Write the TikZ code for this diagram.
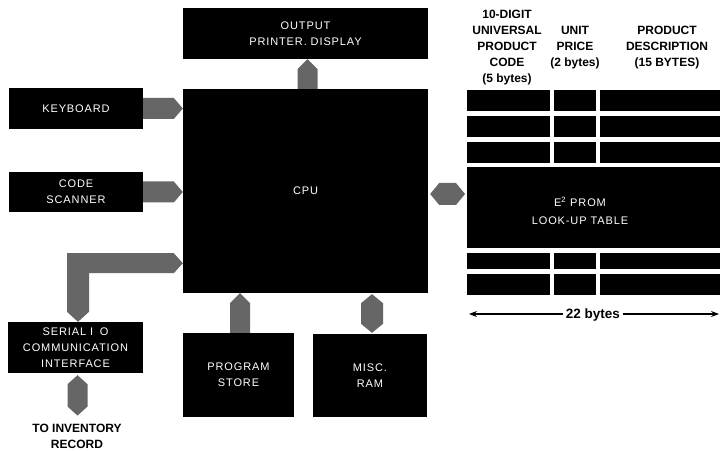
\documentclass[tikz,border=0pt]{standalone}
\usepackage{fontspec}
\setmainfont{Liberation Sans}
\newfontfamily\boxfont[LetterSpace=8]{Liberation Sans}
\usetikzlibrary{calc,arrows.meta}
% right-pointing bus from #1 to #2 (x of #2), half width #3
\newcommand\rbus[3]{\fill[bus] let \p1=(#1), \p2=(#2) in
  (\x1,\y1+#3) -- (\x2-9,\y1+#3) -- (\x2,\y1) -- (\x2-9,\y1-#3) -- (\x1,\y1-#3) -- cycle;}
% up-pointing bus from #1 (bottom) to #2 (y of #2)
\newcommand\ubus[3]{\fill[bus] let \p1=(#1), \p2=(#2) in
  (\x1-#3,\y1) -- (\x1-#3,\y2-10) -- (\x1,\y2) -- (\x1+#3,\y2-10) -- (\x1+#3,\y1) -- cycle;}
% vertical double-pointed bus, #1 top, #2 bottom
\newcommand\vdbl[3]{\fill[bus] let \p1=(#1), \p2=(#2) in
  (\x1,\y1) -- (\x1+#3,\y1-9) -- (\x1+#3,\y2+9) -- (\x1,\y2) -- (\x1-#3,\y2+9) -- (\x1-#3,\y1-9) -- cycle;}
% horizontal double-pointed bus, #1 left, #2 right
\newcommand\hdbl[3]{\fill[bus] let \p1=(#1), \p2=(#2) in
  (\x1,\y1) -- (\x1+9,\y1+#3) -- (\x2-9,\y1+#3) -- (\x2,\y1) -- (\x2-9,\y1-#3) -- (\x1+9,\y1-#3) -- cycle;}
\begin{document}
\begin{tikzpicture}[x=1pt,y=1pt,
  box/.style={fill=black, text=white, inner sep=0pt, align=center,
    font=\boxfont\fontsize{11}{16}\selectfont},
  wtext/.style={text=white, inner sep=0pt, align=center,
    font=\boxfont\fontsize{11}{18}\selectfont},
  bus/.style={fill=black!60},
  hdr/.style={align=center, inner sep=0pt, font=\bfseries\fontsize{12}{16}\selectfont}]
\useasboundingbox[fill=white] (0,0) rectangle (720,450);

% blocks
\node[box, minimum width=245, minimum height=51] (out) at (305.5,416.5) {OUTPUT\\PRINTER. DISPLAY};
\node[box, minimum width=245, minimum height=204] (cpu) at (305.5,259) {CPU};
\node[box, minimum width=134, minimum height=41] (kbd) at (76,341.5) {KEYBOARD};
\node[box, minimum width=134, minimum height=40] (scan) at (76,258) {CODE\\SCANNER};
\node[box, minimum width=135, minimum height=51] (serial) at (75.5,102.5) {SERIAL I\hspace{0.6em}O\\COMMUNICATION\\INTERFACE};
\node[box, minimum width=111, minimum height=84] (prog) at (238.5,75) {PROGRAM\\STORE};
\node[box, minimum width=114, minimum height=83] (ram) at (370,74.5) {MISC.\\RAM};
\node[hdr] (inv) at (77,14) {TO INVENTORY\\RECORD};

% look-up table
\foreach \a/\b in {339/360,313/334,287/308,181/197,155/176}{
  \fill (467,\a) rectangle (550,\b);
  \fill (554,\a) rectangle (596,\b);
  \fill (600,\a) rectangle (720,\b);
}
\node[box, minimum width=253, minimum height=81, anchor=south west] (prom) at (467,202) {};
\node[wtext] (promtext) at (580,239) {E\textsuperscript{2} PROM\\LOOK-UP TABLE};

% column headings
\node[hdr] (h1) at (507,402) {10-DIGIT\\UNIVERSAL\\PRODUCT\\CODE\\(5 bytes)};
\node[hdr] (h2) at (575,402) {UNIT\\PRICE\\(2 bytes)};
\node[hdr] (h3) at (667,402) {PRODUCT\\DESCRIPTION\\(15 BYTES)};

% dimension line
\coordinate (dl) at (469,136);
\coordinate (dr) at (719,136);
\draw[line width=1.1pt, {Stealth[length=8pt,width=6pt]}-{Stealth[length=8pt,width=6pt]}] (dl) -- (dr);
\node[fill=white, inner xsep=3pt, inner ysep=1pt, font=\bfseries\fontsize{13.5}{15}\selectfont] (dim) at (593,135) {22 bytes};

% buses
\rbus{kbd.east}{cpu.west}{10.5}
\rbus{scan.east}{cpu.west}{10.5}
\ubus{$(cpu.north)+(2,0)$}{out.south}{10}
\ubus{$(prog.north)+(1.5,0)$}{cpu.south}{10}
\vdbl{$(ram.north |- cpu.south)+(2,-1)$}{$(ram.north)+(2,1)$}{11}
\vdbl{$(serial.south)+(2,-2)$}{$(inv.north)+(0.5,8)$}{10}
\hdbl{$(cpu.east)+(2,-3)$}{$(prom.west |- cpu.east)+(-2,-3)$}{11}
\fill[bus] let \p1=($(serial.north)+(2.5,0)$), \p2=($(cpu.south west)+(0,30)$) in
  (\x1,\y1) -- (\x1+11,\y1+10) -- (\x1+11,\y2-10) -- (\x2-9,\y2-10) -- (\x2,\y2)
  -- (\x2-9,\y2+10) -- (\x1-11,\y2+10) -- (\x1-11,\y1+10) -- cycle;
\end{tikzpicture}
\end{document}
